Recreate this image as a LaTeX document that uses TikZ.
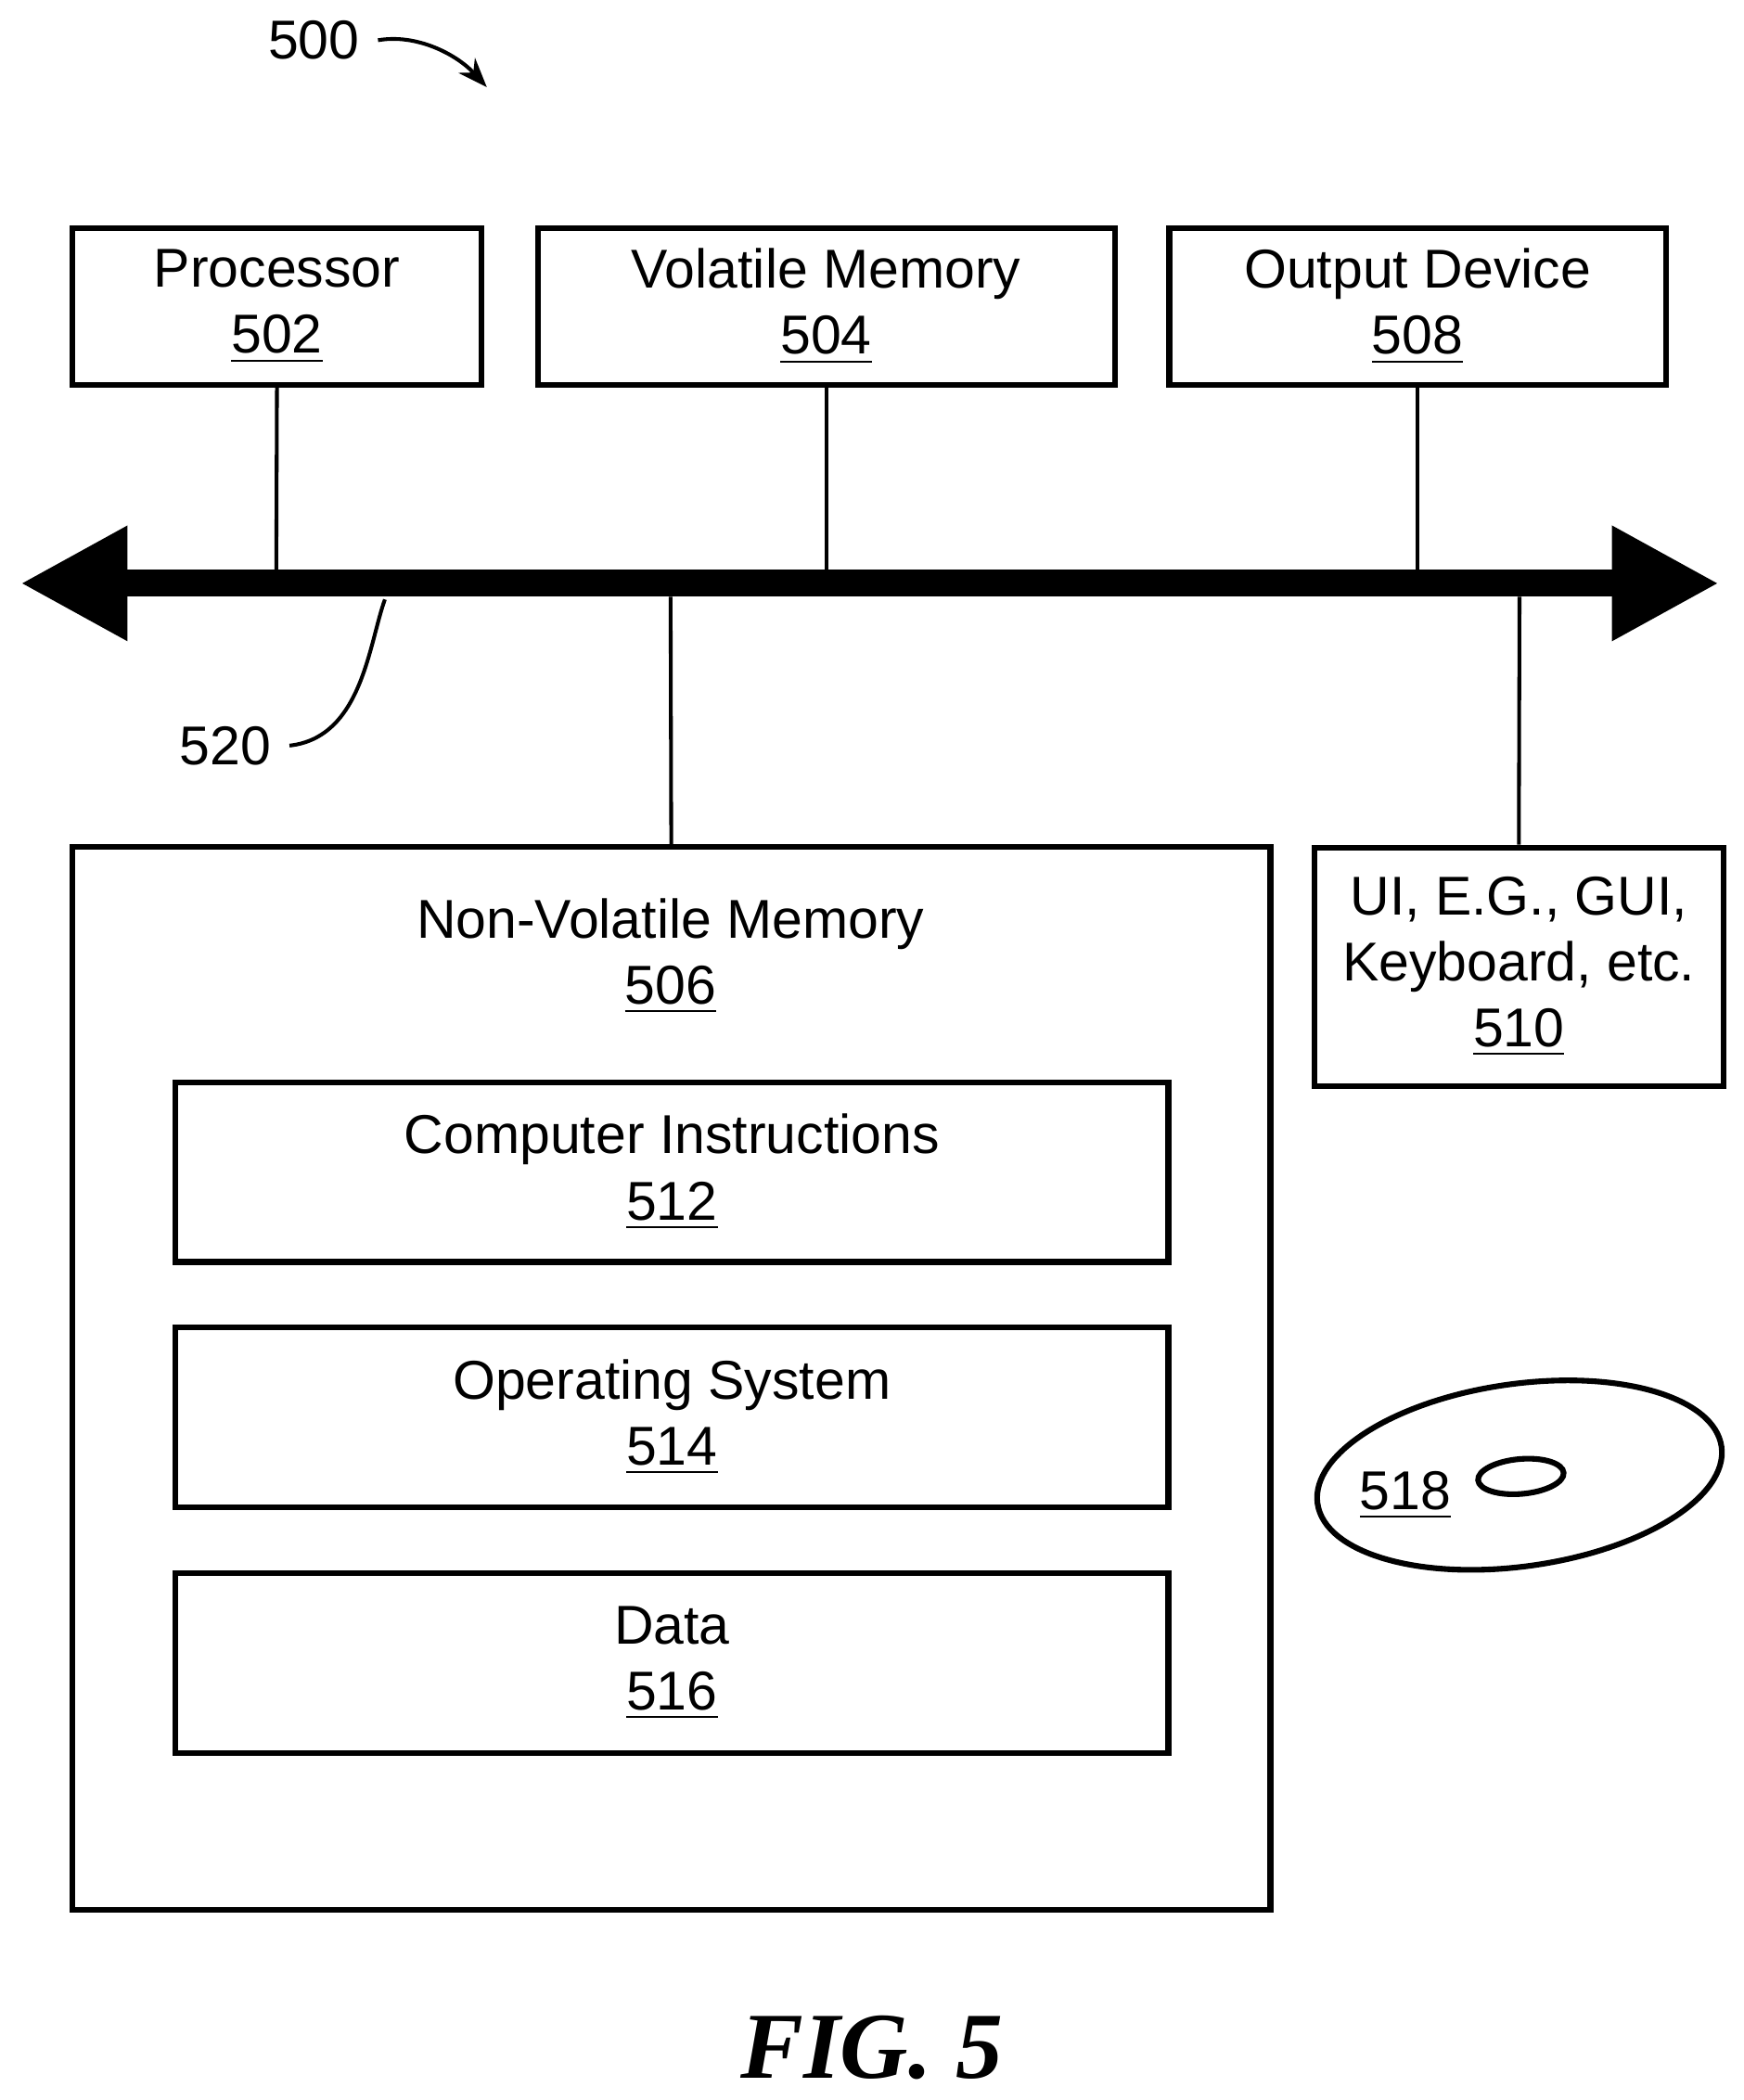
\documentclass[tikz,border=0pt]{standalone}
\usepackage{fontspec}
\setmainfont{Liberation Sans}
\newfontfamily\figfont{Liberation Serif}
\usetikzlibrary{arrows.meta,calc,positioning}

\begin{document}
\begin{tikzpicture}[x=0.01cm, y=-0.01cm, line width=1.2pt,
    every node/.style={font=\fontsize{11.6}{14}\selectfont, align=center},
    Box/.style={draw, minimum height=1.17cm},
    Conn/.style={line width=0.8pt}]
    \useasboundingbox (0,0) rectangle (1300,1566);
    % top row
    \node[Box, minimum width=3.05cm] (proc) at (206.5,228.5) {Processor\\\underline{502}};
    \node[Box, minimum width=4.30cm] (vmem) at (616,228.5) {Volatile Memory\\\underline{504}};
    \node[Box, minimum width=3.70cm] (out) at (1057,228.5) {Output Device\\\underline{508}};
    % bus
    \coordinate (busL) at (15,435);
    \coordinate (busR) at (1282,435);
    \draw[line width=0.2cm, {Triangle[length=0.8cm,width=0.8cm]}-{Triangle[length=0.8cm,width=0.8cm]}] (busL) -- (busR);
    \draw[Conn] (proc.south) -- (206,428);
    \draw[Conn] (vmem.south) -- (616,428);
    \draw[Conn] (out.south) -- (1057,428);
    % lower part
    \node[draw, minimum width=8.93cm, minimum height=7.92cm] (nvm) at (500.5,1028) {};
    \node (nvmlbl) at (500,713) {Non-Volatile Memory\\\underline{506}};
    \node[Box, minimum width=7.40cm, minimum height=1.34cm] (instr) at (501,874) {Computer Instructions\\\underline{512}};
    \node[Box, minimum width=7.40cm, minimum height=1.34cm] (os) at (501,1057) {Operating System\\\underline{514}};
    \node[Box, minimum width=7.40cm, minimum height=1.34cm] (data) at (501,1240) {Data\\\underline{516}};
    \node[draw, minimum width=3.05cm, minimum height=1.78cm] (ui) at (1132.5,721) {UI, E.G., GUI,\\Keyboard, etc.\\\underline{510}};
    \draw[Conn] (500,445) -- (nvm.north);
    \draw[Conn] (1133,445) -- (ui.north);
    % disk
    \draw[rotate around={8:(1133,1100)}] (1133,1100) ellipse [x radius=1.52cm, y radius=0.68cm];
    \draw[rotate around={5:(1134,1101)}] (1134,1101) ellipse [x radius=0.32cm, y radius=0.13cm];
    \node (disk) at (1048,1115) {\underline{518}};
    % reference labels
    \node (ref500) at (234,30) {500};
    \draw[Conn, -{Stealth[length=0.22cm]}] (ref500.east) .. controls (310,25) and (340,40) .. (363,65);
    \node (ref520) at (168,556) {520};
    \draw[Conn] (ref520.east) .. controls (270,550) and (275,480) .. (287,447);
    \node[font=\figfont\bfseries\itshape\fontsize{20}{24}\selectfont] (fig) at (650,1527) {FIG. 5};
\end{tikzpicture}
\end{document}
